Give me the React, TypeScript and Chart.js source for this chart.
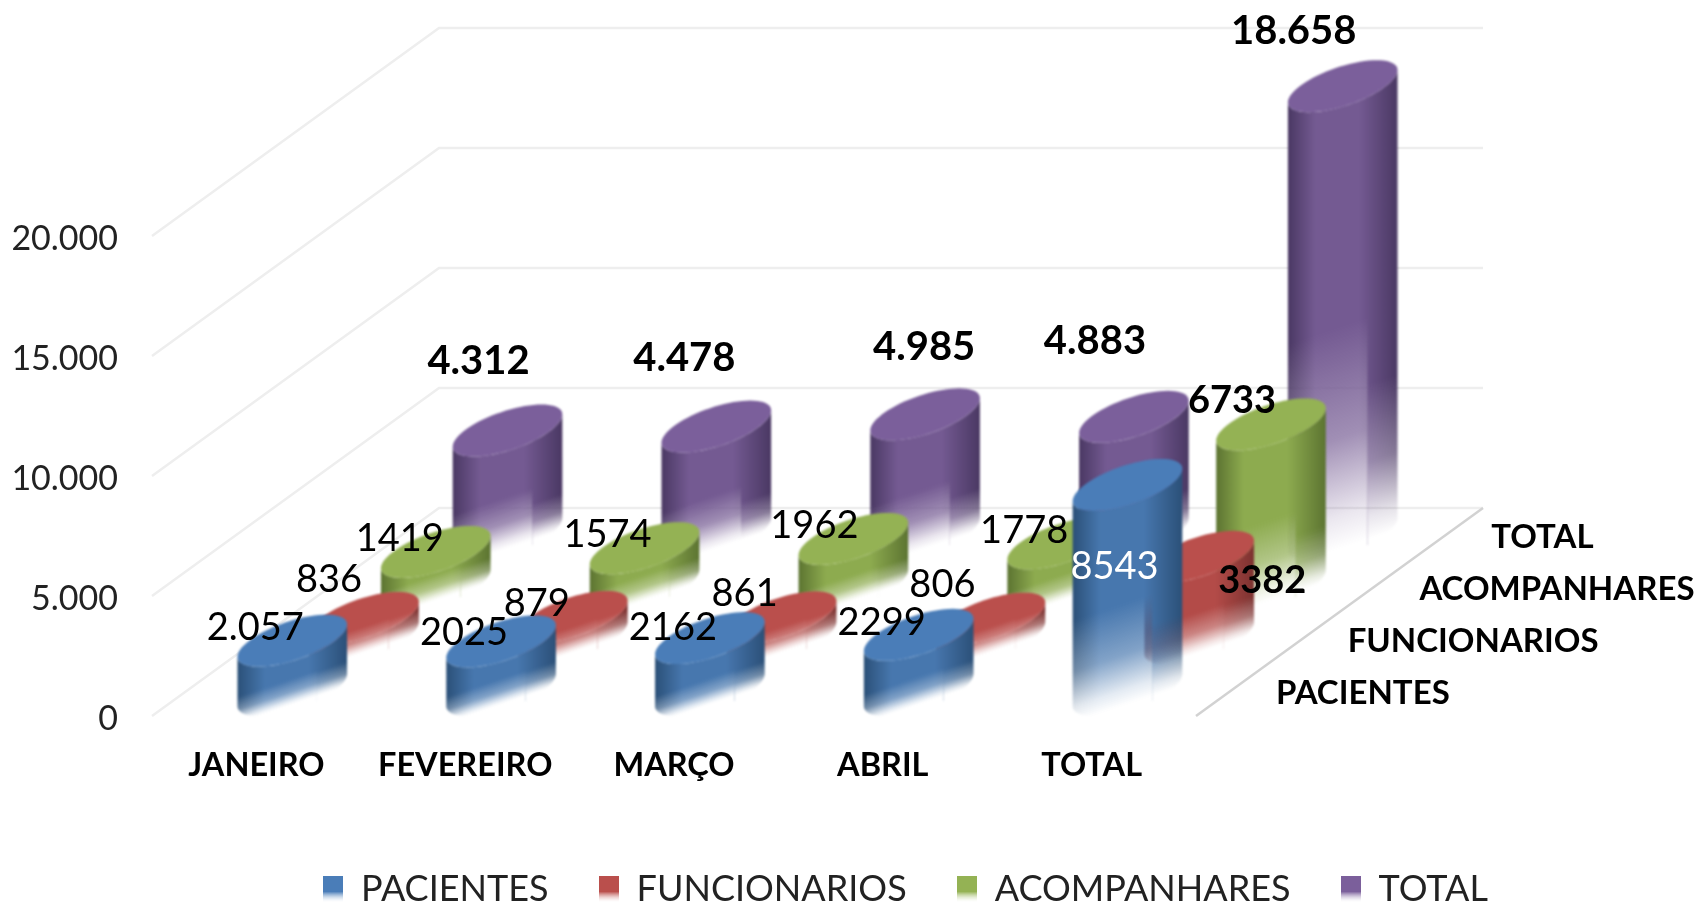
import React, { useEffect, useRef } from "react";
import { Chart, registerables } from "chart.js";

Chart.register(...registerables);

const months = ["JANEIRO", "FEVEREIRO", "MARÇO", "ABRIL", "TOTAL"];
const seriesNames = ["PACIENTES", "FUNCIONARIOS", "ACOMPANHARES", "TOTAL"];

const pacientes = [2057, 2025, 2162, 2299, 8543];
const funcionarios = [836, 879, 861, 806, 3382];
const acompanhares = [1419, 1574, 1962, 1778, 6733];
const totais = [4312, 4478, 4985, 4883, 18658];

const pacientesText = ["2.057", "2025", "2162", "2299", "8543"];
const funcionariosText = ["836", "879", "861", "806", "3382"];
const acompanharesText = ["1419", "1574", "1962", "1778", "6733"];
const totaisText = ["4.312", "4.478", "4.985", "4.883", "18.658"];

const seriesValues = [pacientes, funcionarios, acompanhares, totais];
const seriesText = [pacientesText, funcionariosText, acompanharesText, totaisText];

// [top face, side mid tone, side dark tone]
const palette = [
  ["#4a7db8", "#4777ae", "#2b5078"],
  ["#ba4f4c", "#b34b48", "#7c3230"],
  ["#94b254", "#8dab4f", "#5c7431"],
  ["#7b5f9b", "#745a92", "#4a3863"],
];

// Label placement relative to each cylinder's top centre.
const labelNudge = [
  [[-37, -13], [-37, -9], [-37, -10], [-37, -12], [-13, 82]],
  [[-35, -38], [-36, -13], [-37, -24], [-48, -34], [63, 24]],
  [[-36, -13], [-37, -13], [-39, -13], [-38, -13], [-39, -24]],
  [[-29, -69], [-32, -68], [-1, -67], [-39, -76], [-49, -55]],
];

const FONT = "Lato, Carlito, sans-serif";
const DEPTH_DX = 71.75;
const DEPTH_DY = 52;
const ROWS = 4;
const AX = 43;
const BX = 34;
const BY = 26;

function cylinder(
  off: HTMLCanvasElement,
  target: CanvasRenderingContext2D,
  cx: number,
  yBase: number,
  yTop: number,
  colors: string[]
) {
  const c = off.getContext("2d")!;
  c.clearRect(0, 0, off.width, off.height);
  const R = Math.hypot(AX, BX);
  const tan = Math.atan2(BX, AX);
  const pt = (cy: number, t: number): [number, number] => [
    cx + AX * Math.cos(t) + BX * Math.sin(t),
    cy - BY * Math.sin(t),
  ];
  const steps = 48;
  c.beginPath();
  for (let i = 0; i <= steps; i++) {
    const t = Math.PI + tan + (Math.PI * i) / steps;
    const [x, y] = pt(yBase, t);
    i === 0 ? c.moveTo(x, y) : c.lineTo(x, y);
  }
  for (let i = 0; i <= steps; i++) {
    const t = Math.PI * 2 + tan - (Math.PI * i) / steps;
    const [x, y] = pt(yTop, t);
    c.lineTo(x, y);
  }
  c.closePath();
  const side = c.createLinearGradient(cx - R, 0, cx + R, 0);
  side.addColorStop(0, colors[2]);
  side.addColorStop(0.25, colors[1]);
  side.addColorStop(0.65, colors[1]);
  side.addColorStop(1, colors[2]);
  c.fillStyle = side;
  c.fill();

  c.beginPath();
  for (let i = 0; i <= 72; i++) {
    const [x, y] = pt(yTop, (Math.PI * 2 * i) / 72);
    i === 0 ? c.moveTo(x, y) : c.lineTo(x, y);
  }
  c.closePath();
  c.fillStyle = colors[0];
  c.fill();

  // Bottom fade following the slant of the base; the right-hand strip keeps
  // its colour for longer, like the reflection band in the source.
  const h = yBase - yTop;
  const nx = 0.336 / Math.hypot(0.336, 1);
  const ny = 1 / Math.hypot(0.336, 1);
  const makeFade = (L: number, ey: number) => {
    const g = c.createLinearGradient(cx - nx * L, ey - ny * L, cx, ey);
    g.addColorStop(0, "rgba(0,0,0,0)");
    g.addColorStop(0.5, "rgba(0,0,0,0.32)");
    g.addColorStop(0.85, "rgba(0,0,0,0.85)");
    g.addColorStop(1, "rgba(0,0,0,1)");
    return g;
  };
  const L = Math.max(24, 0.47 * h);
  const split = cx + 0.45 * R;
  c.globalCompositeOperation = "destination-out";
  c.fillStyle = makeFade(L, yBase + 14);
  c.fillRect(0, 0, split, off.height);
  c.fillStyle = makeFade(h > 100 ? L * 0.7 : L * 0.95, yBase + 14);
  c.fillRect(split, 0, off.width - split, off.height);
  c.globalCompositeOperation = "source-over";
  target.save();
  target.filter = "blur(0.8px)";
  target.drawImage(off, 0, 0);
  target.restore();
}

const wallsPlugin = {
  id: "walls",
  beforeDatasetsDraw(chart: any) {
    const { ctx, chartArea, scales } = chart;
    const dx = DEPTH_DX * ROWS;
    const dy = DEPTH_DY * ROWS;
    ctx.save();
    ctx.lineWidth = 2.5;
    ctx.strokeStyle = "#eeeeee";
    for (const v of scales.y.ticks.map((t: any) => t.value)) {
      const y = scales.y.getPixelForValue(v);
      ctx.beginPath();
      ctx.moveTo(chartArea.left, y);
      ctx.lineTo(chartArea.left + dx, y - dy);
      ctx.lineTo(chartArea.right + dx, y - dy);
      ctx.stroke();
    }
    const y0 = scales.y.getPixelForValue(0);
    ctx.strokeStyle = "#d2d2d2";
    ctx.beginPath();
    ctx.moveTo(chartArea.right, y0);
    ctx.lineTo(chartArea.right + dx, y0 - dy);
    ctx.stroke();
    ctx.restore();
  },
};

const cylindersPlugin = {
  id: "cylinders",
  afterLayout(chart: any) {
    const lg = chart.legend;
    if (lg) {
      lg.left += 55;
      lg.right += 55;
      lg.top += 12;
      lg.bottom += 12;
    }
  },
  afterDatasetsDraw(chart: any) {
    const { ctx, scales, chartArea } = chart;
    const off = document.createElement("canvas");
    off.width = chart.width;
    off.height = chart.height;
    const top = (r: number, i: number) => ({
      x: scales.x.getPixelForValue(i) + DEPTH_DX * (r + 0.5),
      y: scales.y.getPixelForValue(seriesValues[r][i]) - DEPTH_DY * (r + 0.5),
      base: scales.y.getPixelForValue(0) - DEPTH_DY * (r + 0.5),
    });
    for (let r = ROWS - 1; r >= 0; r--) {
      for (let i = 0; i < months.length; i++) {
        const p = top(r, i);
        cylinder(off, ctx, p.x, p.base, p.y, palette[r]);
      }
    }
    ctx.save();
    ctx.textAlign = "center";
    ctx.textBaseline = "middle";
    for (let r = 0; r < ROWS; r++) {
      for (let i = 0; i < months.length; i++) {
        const p = top(r, i);
        const isTotalSeries = r === 3;
        const isBoldTotal = i === 4 && (r === 1 || r === 2);
        const white = i === 4 && r === 0;
        const weight = isTotalSeries || isBoldTotal ? "bold " : "";
        const size = isTotalSeries ? 40 : 38;
        ctx.font = `${weight}${size}px ${FONT}`;
        ctx.fillStyle = white ? "#ffffff" : "#000000";
        const [nx, ny] = labelNudge[r][i];
        ctx.fillText(seriesText[r][i], p.x + nx, p.y + ny);
      }
    }
    // Depth axis labels
    ctx.textAlign = "left";
    ctx.font = `bold 33px ${FONT}`;
    ctx.fillStyle = "#000000";
    const y0 = scales.y.getPixelForValue(0);
    seriesNames.forEach((name, r) => {
      ctx.fillText(
        name,
        chartArea.right + DEPTH_DX * (r + 0.5) + 44,
        y0 - DEPTH_DY * (r + 0.5) + 3
      );
    });
    ctx.restore();
  },
};

function swatch(colors: string[]) {
  const s = document.createElement("canvas");
  s.width = 20;
  s.height = 26;
  const c = s.getContext("2d")!;
  const g = c.createLinearGradient(0, 0, 0, 26);
  g.addColorStop(0, colors[0]);
  g.addColorStop(0.6, colors[0]);
  g.addColorStop(1, "rgba(255,255,255,0.2)");
  c.fillStyle = g;
  c.fillRect(0, 0, 20, 26);
  return s;
}

export default function App() {
  const ref = useRef<HTMLCanvasElement | null>(null);
  useEffect(() => {
    if (!ref.current) return;
    const chart = new Chart(ref.current, {
      type: "bar",
      data: {
        labels: months,
        datasets: seriesNames.map((name, r) => ({
          label: name,
          data: seriesValues[r],
          backgroundColor: "rgba(0,0,0,0)",
          borderWidth: 0,
        })),
      },
      plugins: [wallsPlugin, cylindersPlugin],
      options: {
        responsive: false,
        animation: false,
        events: [],
        layout: { padding: { top: 236, left: 0, right: 0, bottom: 0 } },
        scales: {
          x: {
            type: "category",
            grid: { display: false, drawTicks: false },
            border: { display: false },
            ticks: {
              padding: 30,
              maxRotation: 0,
              autoSkip: false,
              color: "#000000",
              font: { family: FONT, size: 32.5, weight: "bold" },
            },
            afterFit(scale: any) {
              scale.height = 93;
            },
          },
          y: {
            min: 0,
            max: 20000,
            grid: { display: false, drawTicks: false },
            border: { display: false },
            ticks: {
              stepSize: 5000,
              padding: 34,
              labelOffset: 3,
              color: "#222222",
              font: { family: FONT, size: 34 },
              callback: (v: any) => String(v).replace(/\B(?=(\d{3})+$)/g, "."),
            },
            afterFit(scale: any) {
              scale.width = 152;
            },
          },
          depth: {
            type: "category",
            axis: "y",
            position: "right",
            labels: seriesNames,
            grid: { display: false, drawTicks: false },
            border: { display: false },
            ticks: { display: false },
            afterFit(scale: any) {
              scale.width = 505;
            },
          },
        } as any,
        plugins: {
          title: { display: false },
          tooltip: { enabled: false },
          legend: {
            position: "bottom",
            labels: {
              padding: 50,
              color: "#222222",
              boxWidth: 20,
              boxHeight: 26,
              usePointStyle: true,
              font: { family: FONT, size: 36 },
              generateLabels: () =>
                seriesNames.map((name, r) => ({
                  text: name,
                  fontColor: "#222222",
                  datasetIndex: r,
                  hidden: false,
                  lineWidth: 0,
                  pointStyle: swatch(palette[r]),
                })),
            },
          },
        },
      } as any,
    });
    return () => chart.destroy();
  }, []);
  return (
    <canvas
      ref={ref}
      width={1701}
      height={905}
      style={{ position: "absolute", left: 0, top: 0, display: "block" }}
    />
  );
}
